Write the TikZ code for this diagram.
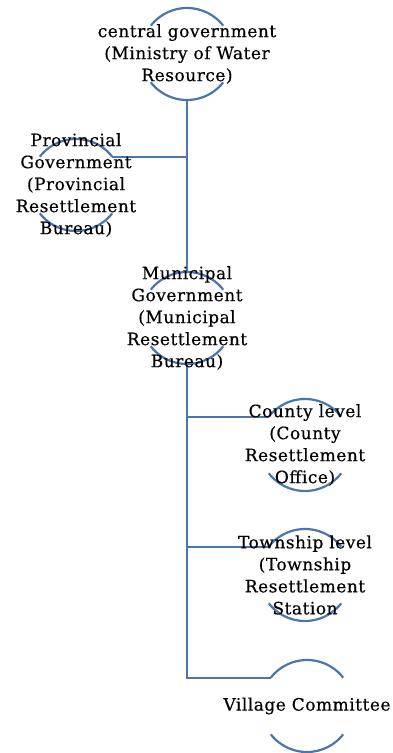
\documentclass[tikz,border=0pt]{standalone}
\usepackage{fontspec}
\setmainfont{DejaVu Serif}[LetterSpace=3,FakeBold=0.4]
\definecolor{lineblue}{RGB}{74,118,172}
\begin{document}
\begin{tikzpicture}[x=1pt,y=1pt,
  orgc/.style={circle, minimum size=92pt, inner sep=0pt, outer sep=0pt},
  lbl/.style={align=center, font=\fontsize{17}{22}\selectfont, inner sep=0pt, text=black},
  arcl/.style={draw=lineblue, line width=2.2pt},
  conn/.style={draw=lineblue, line width=2.2pt}]
\useasboundingbox (0,0) rectangle (393,-753);
\node[orgc] (cen) at (187,-54) {};
\node[orgc] (prov) at (76,-185) {};
\node[orgc] (mun) at (187,-318) {};
\node[orgc] (cty) at (305,-445) {};
\node[orgc] (twn) at (305,-575) {};
\node[orgc] (vil) at (307,-706) {};
\foreach \n in {cen,prov,mun,cty,twn,vil} {
  \draw[arcl] (\n.38) arc[start angle=38,end angle=142,radius=46pt];
  \draw[arcl] (\n.218) arc[start angle=218,end angle=322,radius=46pt];
}
\draw[conn] (cen.south) -- (mun.north);
\draw[conn] (prov.38) -- (prov.38 -| cen.south);
\draw[conn] (mun.south) |- (vil.142);
\draw[conn] (cty.142) -- (cty.142 -| mun.south);
\draw[conn] (twn.142) -- (twn.142 -| mun.south);
\node[lbl] (cenT) at (cen.center) {central government\\(Ministry of Water\\Resource)};
\node[lbl] (provT) at (prov.center) {Provincial\\Government\\(Provincial\\Resettlement\\Bureau)};
\node[lbl] (munT) at (mun.center) {Municipal\\Government\\(Municipal\\Resettlement\\Bureau)};
\node[lbl] (ctyT) at (cty.center) {County level\\(County\\Resettlement\\Office)};
\node[lbl] (twnT) at (twn.center) {Township level\\(Township\\Resettlement\\Station};
\node[lbl] (vilT) at (vil.center) {Village Committee};
\end{tikzpicture}
\end{document}
